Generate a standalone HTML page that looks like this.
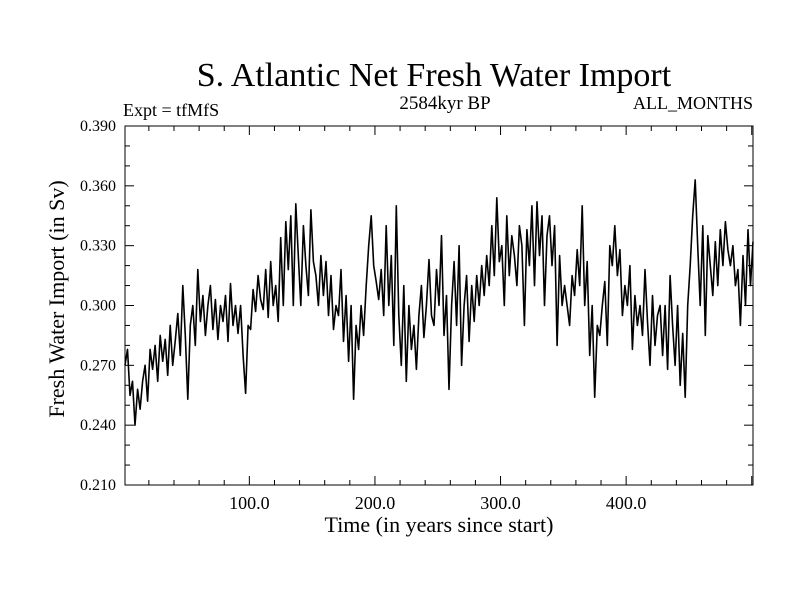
<!DOCTYPE html>
<html><head><meta charset="utf-8"><style>
body{margin:0;background:#fff}
svg{display:block;font-family:"Liberation Serif",serif}
</style></head><body>
<svg id="chart" width="800" height="600" viewBox="0 0 800 600">
<rect width="800" height="600" fill="#fff"/>
<text x="434" y="86" font-size="34" text-anchor="middle">S. Atlantic Net Fresh Water Import</text>
<text x="123" y="116" font-size="18">Expt = tfMfS</text>
<text x="445" y="109" font-size="19" text-anchor="middle">2584kyr BP</text>
<text x="753" y="109" font-size="18" text-anchor="end">ALL_MONTHS</text>
<text x="439" y="532" font-size="22" text-anchor="middle">Time (in years since start)</text>
<text x="0" y="0" font-size="22" text-anchor="middle" transform="translate(64,299) rotate(-90)">Fresh Water Import (in Sv)</text>
<g id="axes"></g>
<path id="series" fill="none" stroke="#000" stroke-width="1.6" stroke-linejoin="round"/>
<rect x="125" y="126" width="628" height="359" fill="none" stroke="#000" stroke-width="1"/>
</svg>
<script>
const startYear = 1;
const yearStep = 2;
const values = [
.270,.278,.255,.262,.240,.258,.248,.262,.270,.252,
.278,.268,.280,.262,.285,.272,.283,.265,.290,.270,
.282,.296,.275,.310,.285,.253,.290,.300,.280,.318,
.292,.305,.285,.300,.310,.288,.303,.283,.300,.292,
.305,.282,.311,.290,.300,.286,.300,.275,.256,.290,
.288,.308,.297,.315,.303,.298,.318,.294,.322,.300,
.310,.292,.334,.300,.342,.318,.345,.300,.351,.325,
.300,.340,.320,.305,.348,.322,.315,.300,.325,.305,
.322,.295,.315,.288,.300,.295,.318,.282,.305,.272,
.300,.253,.290,.278,.300,.285,.310,.330,.345,.320,
.312,.303,.318,.295,.340,.300,.325,.280,.350,.295,
.270,.310,.262,.300,.278,.290,.268,.295,.310,.284,
.300,.323,.295,.290,.318,.300,.335,.285,.305,.258,
.300,.322,.290,.330,.270,.300,.315,.282,.310,.292,
.315,.300,.320,.305,.325,.310,.340,.315,.354,.322,
.330,.300,.345,.315,.335,.325,.310,.340,.330,.290,
.338,.320,.350,.310,.352,.325,.345,.300,.335,.345,
.320,.340,.280,.325,.300,.310,.300,.290,.315,.305,
.328,.310,.350,.300,.322,.275,.300,.254,.290,.285,
.300,.312,.280,.330,.320,.340,.315,.328,.295,.310,
.300,.320,.278,.305,.290,.300,.285,.318,.292,.270,
.305,.280,.295,.300,.275,.300,.268,.315,.290,.270,
.300,.260,.286,.254,.300,.320,.345,.363,.330,.300,
.340,.285,.335,.320,.305,.332,.310,.338,.320,.342,
.328,.320,.330,.310,.318,.290,.325,.300,.338,.310,.332
];
const xTickValues = [100, 200, 300, 400];
const xTickLabels = ["100.0", "200.0", "300.0", "400.0"];
const yTickValues = [0.21, 0.24, 0.27, 0.30, 0.33, 0.36, 0.39];
const yTickLabels = ["0.210", "0.240", "0.270", "0.300", "0.330", "0.360", "0.390"];

const X0 = 125, X1 = 753, Y0 = 485, Y1 = 126;
const xMin = 1, xMax = 501, yMin = 0.21, yMax = 0.39;
function xs(v){ return X0 + (v - xMin) / (xMax - xMin) * (X1 - X0); }
function ys(v){ return Y0 - (v - yMin) / (yMax - yMin) * (Y0 - Y1); }

const NS = "http://www.w3.org/2000/svg";
const axes = document.getElementById("axes");
function line(x1,y1,x2,y2,name){
  const l = document.createElementNS(NS,"line");
  l.setAttribute("x1",x1);l.setAttribute("y1",y1);l.setAttribute("x2",x2);l.setAttribute("y2",y2);
  l.setAttribute("stroke","#000");l.setAttribute("stroke-width","1");
  
  
  axes.appendChild(l);
}
function text(x,y,s,anchor,size,name){
  const t = document.createElementNS(NS,"text");
  t.setAttribute("x",x);t.setAttribute("y",y);t.setAttribute("font-size",size);
  t.setAttribute("text-anchor",anchor);t.textContent = s;
  
  
  axes.appendChild(t);
}
for (let v = 20; v < xMax; v += 20) {
  const x = xs(v), len = (v % 100 === 0) ? 9 : 5;
  line(x, Y0, x, Y0 - len, 'x-tick');
  line(x, Y1, x, Y1 + len, 'x-tick-top');
}
for (let i = 1; i < 18; i++) {
  const v = yMin + i * 0.01, y = ys(v), len = (i % 3 === 0) ? 9 : 5;
  line(X0, y, X0 + len, y, 'y-tick');
  line(X1, y, X1 - len, y, 'y-tick-right');
}
xTickValues.forEach((v,i)=>text(xs(v), 509, xTickLabels[i], "middle", 18, 'x-tick-label'));
yTickValues.forEach((v,i)=>text(116, ys(v)+5, yTickLabels[i], "end", 16, 'y-tick-label'));

let d = "";
values.forEach((v,i)=>{
  const x = xs(startYear + i * yearStep), y = ys(v);
  d += (i ? "L" : "M") + x.toFixed(1) + " " + y.toFixed(1);
});
document.getElementById("series").setAttribute("d", d);
</script>
</body></html>
